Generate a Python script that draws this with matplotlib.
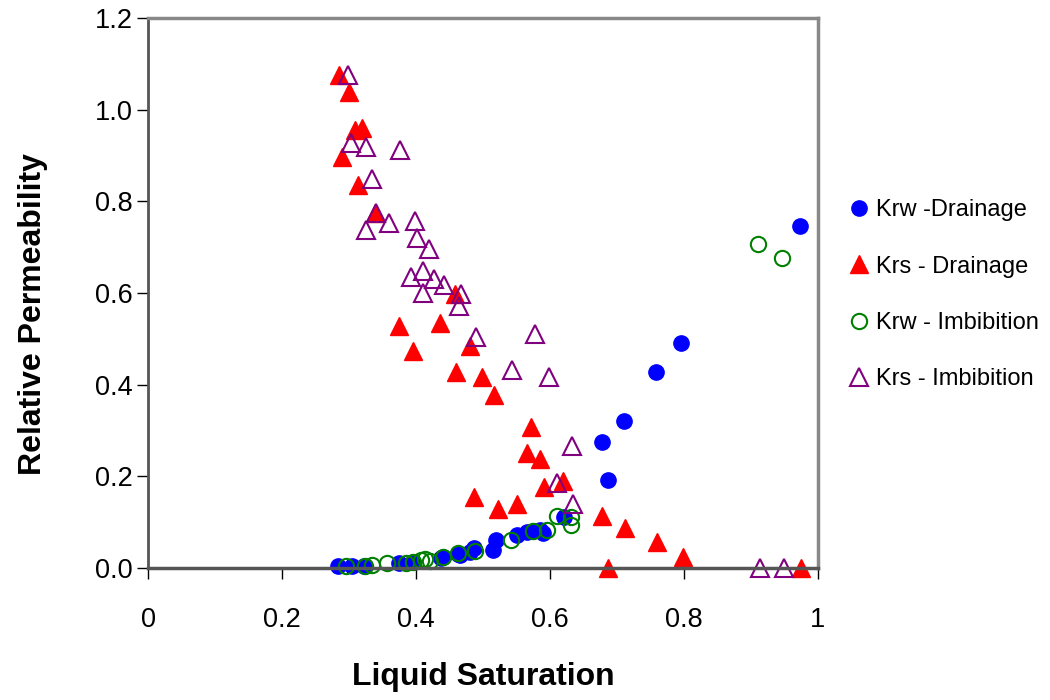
import numpy as np
import matplotlib
matplotlib.use('Agg')
import matplotlib.pyplot as plt

plt.rcParams['font.family'] = ['Liberation Sans', 'DejaVu Sans']

# Krw - Drainage
krw_dr_x = [0.284, 0.305, 0.322, 0.374, 0.396, 0.438, 0.441, 0.463, 0.466, 0.481, 0.486, 0.515,
            0.520, 0.550, 0.565, 0.575, 0.585, 0.590, 0.621, 0.677, 0.686, 0.711, 0.758, 0.795, 0.973]
krw_dr_y = [0.004, 0.005, 0.005, 0.012, 0.013, 0.021, 0.023, 0.031, 0.028, 0.036, 0.043, 0.039,
            0.061, 0.072, 0.079, 0.080, 0.084, 0.076, 0.112, 0.275, 0.192, 0.321, 0.428, 0.490, 0.746]

# Krs - Drainage
krs_dr_x = [0.2855, 0.300, 0.309, 0.320, 0.289, 0.314, 0.339, 0.374, 0.436, 0.396, 0.458, 0.481,
            0.460, 0.498, 0.517, 0.572, 0.565, 0.585, 0.619, 0.591, 0.487, 0.551, 0.523, 0.678,
            0.712, 0.760, 0.798, 0.687, 0.975]
krs_dr_y = [1.076, 1.038, 0.956, 0.961, 0.897, 0.836, 0.774, 0.528, 0.535, 0.473, 0.597, 0.485,
            0.428, 0.416, 0.377, 0.308, 0.252, 0.238, 0.190, 0.176, 0.156, 0.140, 0.128, 0.114,
            0.088, 0.057, 0.025, 0.0, 0.0]

# Krw - Imbibition
krw_im_x = [0.296, 0.324, 0.334, 0.356, 0.385, 0.396, 0.408, 0.413, 0.421, 0.441, 0.463, 0.488,
            0.542, 0.575, 0.596, 0.610, 0.632, 0.632, 0.911, 0.947]
krw_im_y = [0.005, 0.004, 0.007, 0.012, 0.010, 0.014, 0.017, 0.020, 0.015, 0.025, 0.032, 0.037,
            0.061, 0.081, 0.084, 0.114, 0.111, 0.094, 0.708, 0.676]

# Krs - Imbibition
krs_im_x = [0.298, 0.303, 0.325, 0.376, 0.334, 0.340, 0.360, 0.325, 0.398, 0.402, 0.419, 0.393,
            0.410, 0.427, 0.442, 0.411, 0.467, 0.464, 0.489, 0.577, 0.543, 0.599, 0.633, 0.610,
            0.634, 0.913, 0.949]
krs_im_y = [1.076, 0.927, 0.919, 0.911, 0.849, 0.775, 0.753, 0.737, 0.758, 0.721, 0.695, 0.634,
            0.647, 0.631, 0.617, 0.601, 0.597, 0.572, 0.503, 0.510, 0.432, 0.416, 0.267, 0.185,
            0.140, 0.0, 0.0]

fig = plt.figure(figsize=(10.5, 7), dpi=100)
ax = fig.add_axes([148/1050., 1-568/700., 670/1050., 550/700.])

ax.plot(krw_dr_x, krw_dr_y, 'o', color='#0000FF', ms=11, mec='#0000FF', clip_on=False,
        label='Krw -Drainage')
ax.plot(krs_dr_x, krs_dr_y, '^', color='#FF0000', ms=13, mec='#FF0000', clip_on=False,
        label='Krs - Drainage')
ax.plot(krw_im_x, krw_im_y, 'o', mfc='none', mec='#008000', mew=1.5, ms=11, clip_on=False,
        label='Krw - Imbibition')
ax.plot(krs_im_x, krs_im_y, '^', mfc='none', mec='#800080', mew=1.5, ms=13, clip_on=False,
        label='Krs - Imbibition')

ax.set_xlim(0, 1)
ax.set_ylim(0, 1.2)
ax.set_xticks([0, 0.2, 0.4, 0.6, 0.8, 1])
ax.set_xticklabels(['0', '0.2', '0.4', '0.6', '0.8', '1'])
ax.set_yticks(np.arange(0, 1.21, 0.2))
ax.set_yticklabels(['%.1f' % v for v in np.arange(0, 1.21, 0.2)])
ax.tick_params(direction='out', length=8, width=1, labelsize=19.5, color='black')
ax.tick_params(axis='x', pad=20)
ax.tick_params(axis='y', pad=3)

for s in ['top', 'right']:
	ax.spines[s].set_color('#888888')
	ax.spines[s].set_linewidth(2.5)
ax.spines['left'].set_color('#555555')
ax.spines['left'].set_linewidth(2)
ax.spines['bottom'].set_color('#555555')
ax.spines['bottom'].set_linewidth(2.5)

ax.set_xlabel('Liquid Saturation', fontsize=23, fontweight='bold')
ax.set_ylabel('Relative Permeability', fontsize=23, fontweight='bold')
ax.xaxis.set_label_coords(0.5, -0.17)
ax.yaxis.set_label_coords(-0.15, 0.462)

leg = ax.legend(loc='center left', bbox_to_anchor=(1.012, 0.497), frameon=False, fontsize=17,
                handletextpad=0.2, labelspacing=1.45, handlelength=1.0, markerscale=1.0)

fig.savefig('out.png', dpi=100)
